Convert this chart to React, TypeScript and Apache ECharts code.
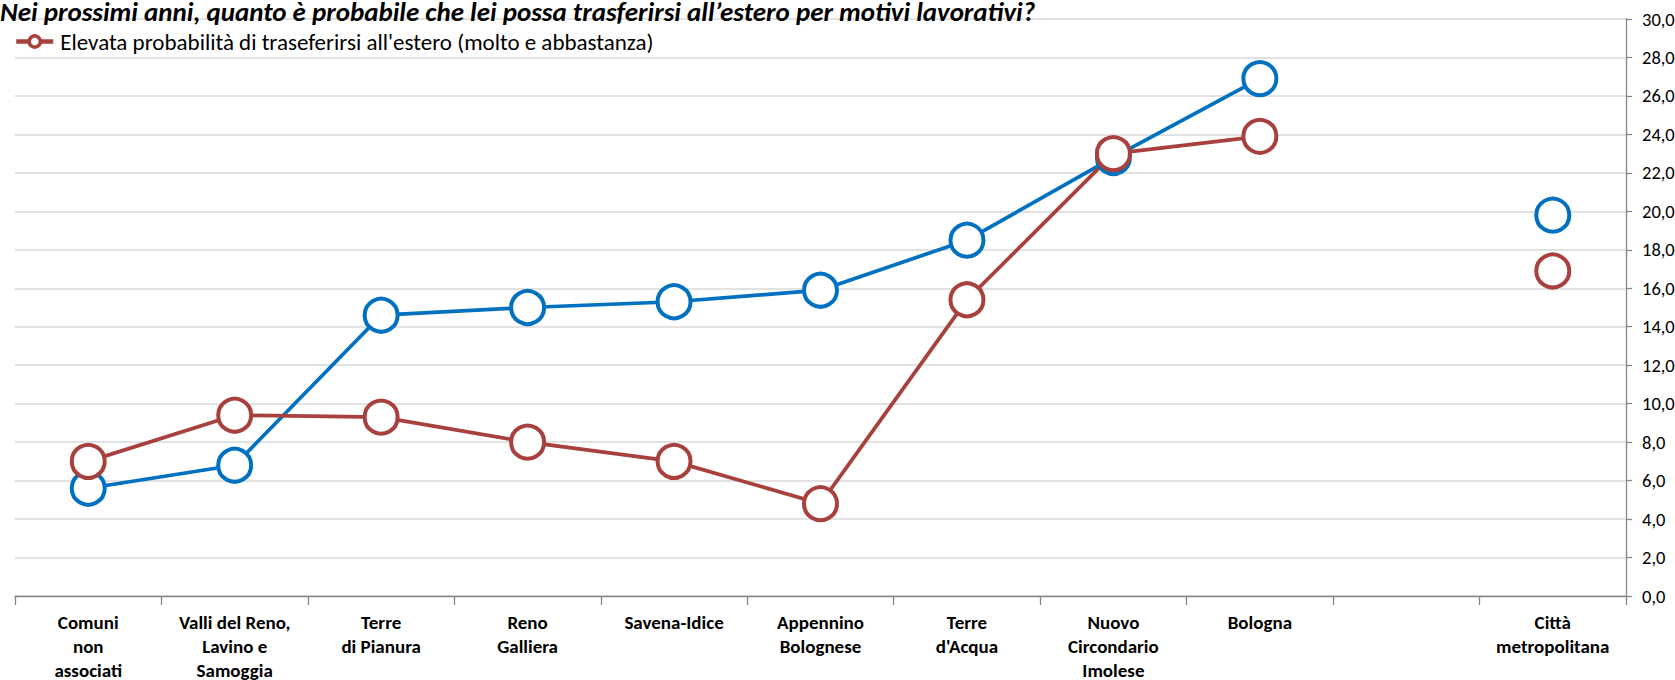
import React, { useEffect, useRef } from "react";
import * as echarts from "echarts";

const categories = [
  "Comuni\nnon\nassociati",
  "Valli del Reno,\nLavino e\nSamoggia",
  "Terre\ndi Pianura",
  "Reno\nGalliera",
  "Savena-Idice",
  "Appennino\nBolognese",
  "Terre\nd'Acqua",
  "Nuovo\nCircondario\nImolese",
  "Bologna",
  "",
  "Città\nmetropolitana",
];

const blueValues: (number | null)[] = [5.6, 6.8, 14.6, 15.0, 15.3, 15.9, 18.5, 22.8, 26.9, null, 19.8];
const redValues: (number | null)[] = [7.0, 9.4, 9.3, 8.0, 7.0, 4.8, 15.4, 23.0, 23.9, null, 16.9];

const titleText = "Nei prossimi anni, quanto è probabile che lei possa trasferirsi all’estero per motivi lavorativi?";
const redName = "Elevata probabilità di traseferirsi all'estero (molto e abbastanza)";
const blueName = "Totale";

const FONT = "Carlito, 'Liberation Sans Narrow', 'Open Sans', sans-serif";

export default function App() {
  const ref = useRef<HTMLDivElement>(null);
  useEffect(() => {
    if (!ref.current) return;
    const chart = echarts.init(ref.current, undefined, { renderer: "svg" });
    chart.setOption({
      animation: false,
      backgroundColor: "#ffffff",
      textStyle: { fontFamily: FONT },
      title: {
        text: titleText,
        left: 0,
        top: -2,
        padding: 0,
        textStyle: {
          fontFamily: FONT,
          fontSize: 27,
          lineHeight: 27,
          fontWeight: "bold",
          fontStyle: "italic",
          color: "#000000",
        },
      },
      legend: {
        data: [redName],
        left: 14,
        top: 30,
        padding: 0,
        itemWidth: 37,
        itemHeight: 14,
        itemGap: 8,
        lineStyle: { width: 4.5 },
        itemStyle: { borderWidth: 3.5 },
        textStyle: { fontFamily: FONT, fontSize: 23, color: "#000000", padding: [0, 0, 0, 2] },
      },
      grid: { left: 15, right: 49, top: 19, bottom: 84, containLabel: false, outerBoundsMode: "none" },
      xAxis: {
        type: "category",
        data: categories,
        boundaryGap: true,
        axisLine: { show: true, lineStyle: { color: "#868686", width: 1.3 } },
        axisTick: { show: true, interval: 0, length: 9, lineStyle: { color: "#868686", width: 1.3 } },
        axisLabel: {
          interval: 0,
          margin: 14,
          fontFamily: FONT,
          fontSize: 19,
          fontWeight: "bold",
          lineHeight: 24,
          color: "#000000",
          align: "center",
        },
        splitLine: { show: false },
      },
      yAxis: {
        type: "value",
        position: "right",
        min: 0,
        max: 30,
        interval: 2,
        axisLine: { show: true, lineStyle: { color: "#868686", width: 1.3 } },
        axisTick: { show: true, length: 6, lineStyle: { color: "#868686", width: 1.3 } },
        axisLabel: {
          margin: 16,
          fontFamily: FONT,
          fontSize: 18.5,
          color: "#000000",
          formatter: (v: number) => v.toFixed(1).replace(".", ","),
        },
        splitLine: { show: true, lineStyle: { color: "#d9d9d9", width: 1.5 } },
      },
      series: [
        {
          name: blueName,
          type: "line",
          data: blueValues,
          connectNulls: false,
          symbol: "circle",
          symbolSize: 33,
          lineStyle: { color: "#0070c0", width: 3.7 },
          itemStyle: { color: "#ffffff", borderColor: "#0070c0", borderWidth: 4 },
        },
        {
          name: redName,
          type: "line",
          data: redValues,
          connectNulls: false,
          symbol: "circle",
          symbolSize: 33,
          lineStyle: { color: "#a8413d", width: 3.7 },
          itemStyle: { color: "#ffffff", borderColor: "#a8413d", borderWidth: 4 },
        },
      ],
    });
    return () => chart.dispose();
  }, []);
  return (
    <div
      ref={ref}
      style={{ position: "fixed", left: 0, top: 0, width: 1675, height: 680, background: "#fff" }}
    />
  );
}
